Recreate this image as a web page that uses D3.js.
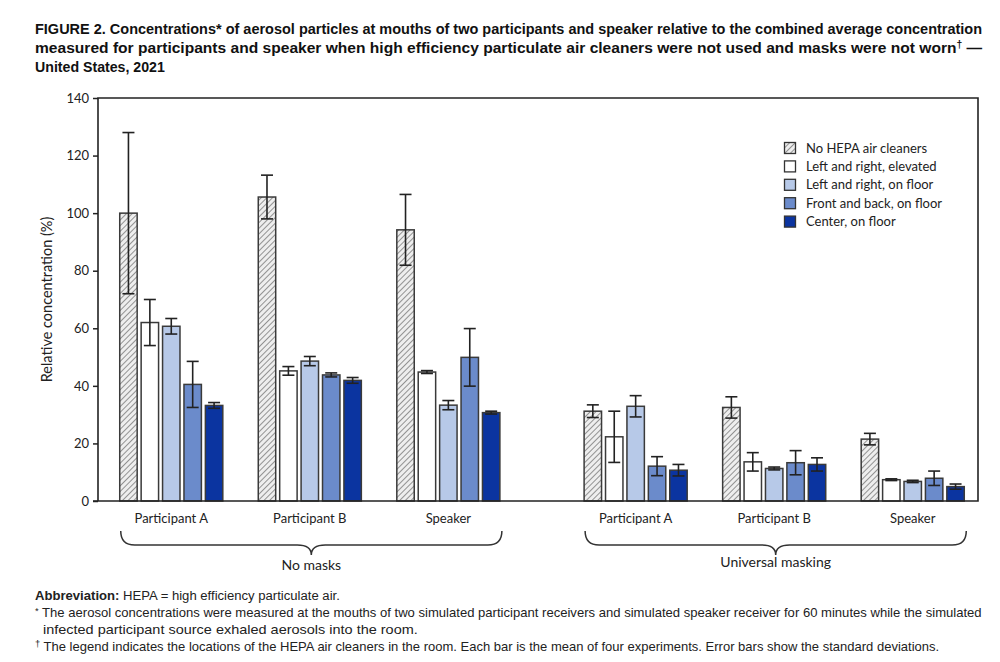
<!DOCTYPE html>
<html>
<head>
<meta charset="utf-8">
<script src="https://cdn.jsdelivr.net/npm/d3@7"></script>
<style>
  html, body { margin: 0; padding: 0; background: #fff; }
  svg { display: block; }
</style>
</head>
<body>
<svg id="chart" width="1000" height="662"></svg>
<script>
// ---------- DATA ----------
const conditions = ["No masks", "Universal masking"];
const locations = ["Participant A", "Participant B", "Speaker"];
const series = ["No HEPA air cleaners", "Left and right, elevated", "Left and right, on floor", "Front and back, on floor", "Center, on floor"];
// values ordered: No masks (A, B, Speaker), Universal masking (A, B, Speaker)
const noHepa      = [100.0, 105.6, 94.2, 31.2, 32.5, 21.5];
const noHepaSD    = [28.0, 7.6, 12.3, 2.2, 3.7, 2.0];
const lrElevated  = [62.0, 45.2, 44.8, 22.3, 13.6, 7.4];
const lrElevatedSD= [8.0, 1.5, 0.5, 8.9, 3.2, 0.3];
const lrFloor     = [60.7, 48.6, 33.3, 32.9, 11.3, 6.8];
const lrFloorSD   = [2.7, 1.6, 1.6, 3.7, 0.5, 0.4];
const fbFloor     = [40.5, 43.8, 49.9, 12.1, 13.3, 7.9];
const fbFloorSD   = [8.0, 0.7, 10.0, 3.3, 4.2, 2.5];
const centerFloor = [33.2, 41.9, 30.7, 10.7, 12.7, 5.0];
const centerFloorSD=[1.0, 1.0, 0.5, 2.0, 2.3, 0.9];
const yTicks = [0, 20, 40, 60, 80, 100, 120, 140];

const seriesValues = [noHepa, lrElevated, lrFloor, fbFloor, centerFloor];
const seriesSD = [noHepaSD, lrElevatedSD, lrFloorSD, fbFloorSD, centerFloorSD];
const seriesFill = ["url(#hatch)", "#ffffff", "#b7c9e8", "#6b8bcb", "#0b34a0"];

// ---------- BUILD ----------
const svg = d3.select("#chart");
const defs = svg.append("defs");
const pat = defs.append("pattern")
  .attr("id", "hatch").attr("patternUnits", "userSpaceOnUse")
  .attr("width", 4).attr("height", 4)
  .attr("patternTransform", "rotate(45)");
pat.append("rect").attr("width", 4).attr("height", 4).attr("fill", "#eeeeee");
pat.append("line").attr("x1", 0).attr("y1", 0).attr("x2", 0).attr("y2", 4)
  .attr("stroke", "#7a7a7a").attr("stroke-width", 1.6);

const plot = { left: 98, right: 978, top: 98, bottom: 501 };

const y = d3.scaleLinear().domain([0, 140]).range([plot.bottom, plot.top]);
const x0 = d3.scaleBand().domain(conditions).range([102, 982]).paddingInner(0.105).paddingOuter(0);
const x1 = d3.scaleBand().domain(locations).range([0, x0.bandwidth()]).paddingInner(0.256).paddingOuter(0.128);
const x2 = d3.scaleBand().domain(series).range([0, x1.bandwidth()]).paddingInner(0.186).paddingOuter(0);

const FONT = "Lato, 'Open Sans', sans-serif";
const NARROW = "'Liberation Sans Narrow', 'Liberation Sans', sans-serif";

// helper: place a text at (x,y) and scale it horizontally to a target width
function fitText(sel, x, yy, width) {
  const w = sel.node().getComputedTextLength();
  const sx = width / w;
  sel.attr("transform", `translate(${x},${yy}) scale(${sx},1)`);
}

// Title
const title = svg.append("g").attr("font-family", NARROW).attr("font-weight", "bold")
  .attr("font-size", 15).attr("fill", "#111");
const t1 = title.append("text")
  .text("FIGURE 2. Concentrations* of aerosol particles at mouths of two participants and speaker relative to the combined average concentration");
fitText(t1, 35, 34, 948);
const t2 = title.append("text");
t2.append("tspan").text("measured for participants and speaker when high efficiency particulate air cleaners were not used and masks were not worn");
t2.append("tspan").attr("dy", -5).attr("font-size", 10).text("†");
t2.append("tspan").attr("dy", 5).text(" —");
fitText(t2, 35, 53, 948);
const t3 = title.append("text").text("United States, 2021");
fitText(t3, 35, 72, 130);

// Y axis ticks and labels
const yAxis = d3.axisLeft(y).tickValues(yTicks).tickSize(5).tickPadding(4);
const yg = svg.append("g").attr("transform", `translate(${plot.left},0)`).call(yAxis);
yg.select(".domain").remove();
yg.selectAll(".tick line").attr("stroke", "#222").attr("stroke-width", 1.5);
yg.selectAll(".tick text").attr("font-family", FONT).attr("font-size", 13).attr("fill", "#222");

// Y label
svg.append("text")
  .attr("transform", `translate(52,${(plot.top + plot.bottom) / 2}) rotate(-90)`)
  .attr("text-anchor", "middle").attr("font-family", FONT).attr("font-size", 14.5).attr("fill", "#222")
  .text("Relative concentration (%)");

// Bars
const barData = [];
conditions.forEach((c, ci) => {
  locations.forEach((l, li) => {
    series.forEach((s, si) => {
      const idx = ci * 3 + li;
      barData.push({ c, l, s, si, v: seriesValues[si][idx], sd: seriesSD[si][idx] });
    });
  });
});
const bx = d => x0(d.c) + x1(d.l) + x2(d.s);

svg.append("g").selectAll("rect").data(barData).join("rect")
  .attr("x", d => bx(d))
  .attr("y", d => y(d.v))
  .attr("width", x2.bandwidth())
  .attr("height", d => y(0) - y(d.v))
  .attr("fill", d => seriesFill[d.si])
  .attr("stroke", "#3a3a3a").attr("stroke-width", 1.5);

// Error bars
const eg = svg.append("g").attr("stroke", "#222").attr("stroke-width", 1.6).attr("fill", "none");
const cap = 6;
barData.forEach(d => {
  const cx = bx(d) + x2.bandwidth() / 2;
  const yt = y(d.v + d.sd), yb = y(d.v - d.sd);
  eg.append("line").attr("x1", cx).attr("x2", cx).attr("y1", yt).attr("y2", yb);
  eg.append("line").attr("x1", cx - cap).attr("x2", cx + cap).attr("y1", yt).attr("y2", yt);
  eg.append("line").attr("x1", cx - cap).attr("x2", cx + cap).attr("y1", yb).attr("y2", yb);
});

// Frame (box)
svg.append("path")
  .attr("d", `M${plot.left - 5},${plot.bottom}H${plot.right}V${plot.top}H${plot.left}V${plot.bottom}`)
  .attr("fill", "none").attr("stroke", "#222").attr("stroke-width", 1.6);

// Location labels
const lab = svg.append("g").attr("font-family", FONT).attr("font-size", 13).attr("fill", "#222").attr("text-anchor", "middle");
conditions.forEach(c => {
  locations.forEach(l => {
    lab.append("text").attr("x", x0(c) + x1(l) + x1.bandwidth() / 2).attr("y", 523).text(l);
  });
});

// Braces and condition labels
conditions.forEach((c, ci) => {
  const a = x0(c) + x1(locations[0]) + 1;
  const b = x0(c) + x1(locations[2]) + x1.bandwidth() + 2;
  const m = (a + b) / 2;
  const t = 531, h = 14, tip = 24, r = 14;
  svg.append("path")
    .attr("d", `M${a},${t} Q${a},${t + h} ${a + r},${t + h} L${m - r},${t + h} Q${m},${t + h} ${m},${t + tip} Q${m},${t + h} ${m + r},${t + h} L${b - r},${t + h} Q${b},${t + h} ${b},${t}`)
    .attr("fill", "none").attr("stroke", "#333").attr("stroke-width", 1.5);
  svg.append("text").attr("x", m).attr("y", ci === 0 ? 570 : 567).attr("text-anchor", "middle")
    .attr("font-family", FONT).attr("font-size", 14).attr("fill", "#222").text(c);
});

// Legend
const lg = svg.append("g").attr("transform", "translate(784,142)");
series.forEach((s, i) => {
  const row = lg.append("g").attr("transform", `translate(0,${i * 18.4})`);
  row.append("rect").attr("x", 0.5).attr("y", 0.5).attr("width", 11).attr("height", 11)
    .attr("fill", seriesFill[i]).attr("stroke", "#333").attr("stroke-width", 1.3);
  row.append("text").attr("x", 22).attr("y", 10.5).attr("font-family", FONT).attr("font-size", 13)
    .attr("fill", "#222").text(s);
});

// Footnotes
const fn = svg.append("g").attr("font-family", NARROW).attr("font-size", 12.5).attr("fill", "#222");
const f1 = fn.append("text");
f1.append("tspan").attr("font-weight", "bold").text("Abbreviation:");
f1.append("tspan").text(" HEPA = high efficiency particulate air.");
fitText(f1, 35, 600, 305);
const f2 = fn.append("text");
f2.append("tspan").attr("font-size", 9).attr("dy", -3).text("*");
f2.append("tspan").attr("dy", 3).text(" The aerosol concentrations were measured at the mouths of two simulated participant receivers and simulated speaker receiver for 60 minutes while the simulated");
fitText(f2, 35, 617, 948);
const f3 = fn.append("text").text("infected participant source exhaled aerosols into the room.");
fitText(f3, 43, 634, 375);
const f4 = fn.append("text");
f4.append("tspan").attr("font-size", 9).attr("dy", -4).text("†");
f4.append("tspan").attr("dy", 4).text(" The legend indicates the locations of the HEPA air cleaners in the room. Each bar is the mean of four experiments. Error bars show the standard deviations.");
fitText(f4, 35, 651, 905);
</script>
</body>
</html>
